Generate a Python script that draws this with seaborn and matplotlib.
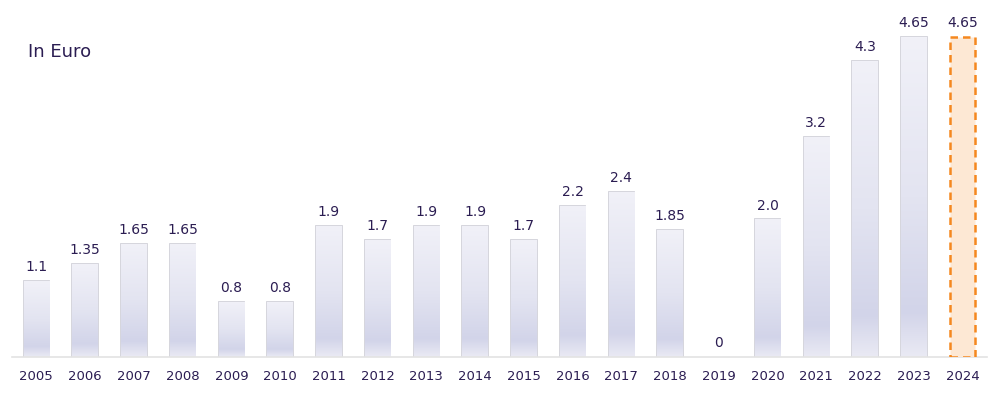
import matplotlib
matplotlib.use("Agg")
import matplotlib.pyplot as plt
import seaborn as sns
import numpy as np
import pandas as pd
from matplotlib.colors import LinearSegmentedColormap

years = ["2005", "2006", "2007", "2008", "2009", "2010", "2011", "2012", "2013", "2014",
         "2015", "2016", "2017", "2018", "2019", "2020", "2021", "2022", "2023", "2024"]
values = [1.1, 1.35, 1.65, 1.65, 0.8, 0.8, 1.9, 1.7, 1.9, 1.9,
          1.7, 2.2, 2.4, 1.85, 0, 2.0, 3.2, 4.3, 4.65, 4.65]
labels = ["1.1", "1.35", "1.65", "1.65", "0.8", "0.8", "1.9", "1.7", "1.9", "1.9",
          "1.7", "2.2", "2.4", "1.85", "0", "2.0", "3.2", "4.3", "4.65", "4.65"]
highlight = "2024"

df = pd.DataFrame({"year": years, "value": values})

sns.set_theme(style="white")
plt.rcParams['font.family'] = ['DejaVu Sans']

fig = plt.figure(figsize=(10, 3.93), dpi=100)
ax = fig.add_axes([0.012, 0.0916, 0.975, 0.875])

sns.barplot(data=df, x="year", y="value", ax=ax, width=0.52,
            color="white", edgecolor="#d2d2da", linewidth=1.3, saturation=1)

text_col = "#2b1d52"
cmap = LinearSegmentedColormap.from_list(
    "bar", [(0.0, "#f1f1f8"), (0.5, "#e3e4f1"), (0.86, "#d2d4e9"), (1.0, "#eaeaf4")])
grad = np.linspace(0, 1, 256).reshape(-1, 1)

for patch, yr, lab in zip(ax.patches, years, labels):
    x0, y0 = patch.get_x(), patch.get_y()
    w, h = patch.get_width(), patch.get_height()
    if yr == highlight:
        patch.set_facecolor("#fde8d4")
        patch.set_edgecolor("#f5881f")
        patch.set_linestyle((0, (3, 2)))
        patch.set_linewidth(1.8)
        patch.set_zorder(3)
    elif h > 0:
        im = ax.imshow(grad, cmap=cmap, aspect="auto",
                       extent=(x0, x0 + w, y0, y0 + h), zorder=2.5,
                       interpolation="bilinear")
        im.set_clip_path(patch)
        patch.set_zorder(2)
    else:
        patch.set_visible(False)
    ax.annotate(lab, (x0 + w / 2, y0 + h), xytext=(0, 5), textcoords="offset points",
                ha="center", va="bottom", fontsize=10, color=text_col)

ax.set_xlim(-0.5, len(years) - 0.5)
ax.set_ylim(0, 5)
ax.set_xlabel("")
ax.set_ylabel("")
ax.set_yticks([])
ax.tick_params(axis="x", length=0, pad=9, labelsize=9.5, labelcolor=text_col)
for s in ["top", "right", "left"]:
    ax.spines[s].set_visible(False)
ax.spines["bottom"].set_color("#e3e3e3")
ax.spines["bottom"].set_linewidth(1.2)

fig.text(0.028, 0.868, "In Euro", fontsize=13, color=text_col, ha="left", va="center")

fig.savefig("out.png", dpi=100)
